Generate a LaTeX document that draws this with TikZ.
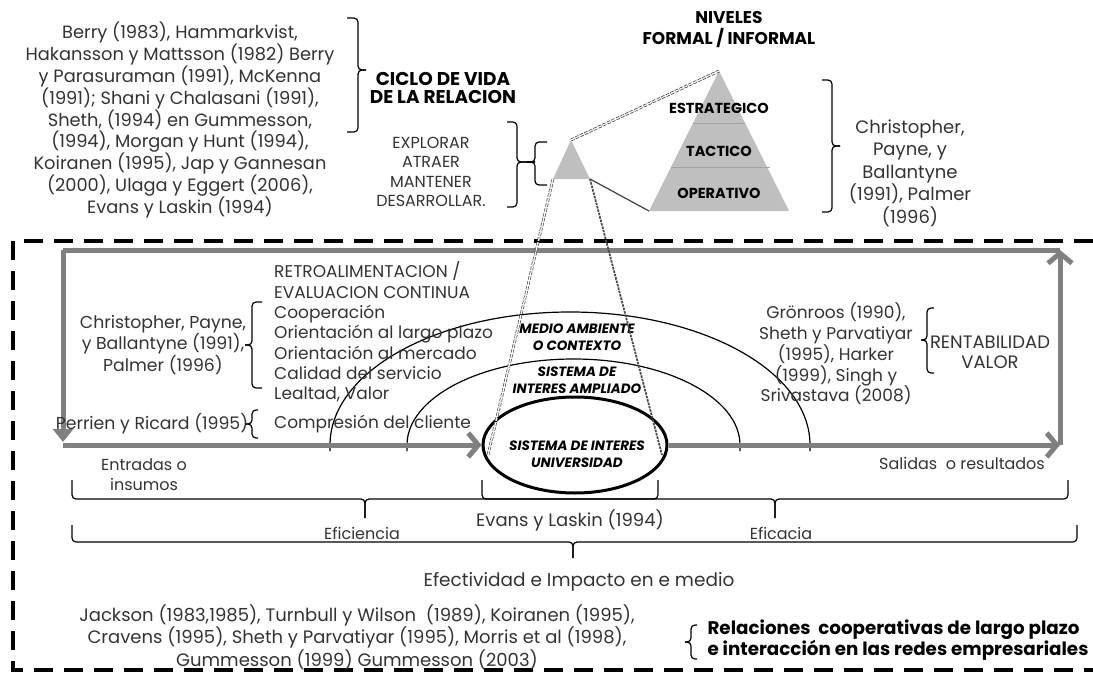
\documentclass[tikz,border=0pt]{standalone}
\usepackage{fontspec}
\setmainfont{Poppins}
\usetikzlibrary{arrows.meta,shapes.geometric}

\definecolor{ink}{HTML}{333333}
\definecolor{loopgray}{HTML}{808080}
\definecolor{pyrfill}{HTML}{BFBFBF}
\definecolor{pyrline}{HTML}{A3A3A3}

% horizontal brace opening upwards: left x, right x, end y, bar y, tip x, tip y
\newcommand\bracedown[6]{%
  \draw[bracepath] (#1,#3) -- (#1,#4) -- (#5,#4) -- (#5,#6);
  \draw[bracepath] (#2,#3) -- (#2,#4) -- (#5,#4) -- (#5,#6);}
% vertical brace: end x, bar x, tip x, top y, bottom y, tip y
\newcommand\braceside[6]{%
  \draw[bracepath] (#1,#4) -- (#2,#4) -- (#2,#6) -- (#3,#6);
  \draw[bracepath] (#1,#5) -- (#2,#5) -- (#2,#6) -- (#3,#6);}

\begin{document}
\begin{tikzpicture}[x=1pt,y=-1pt,
  every node/.style={inner sep=0pt, text=ink},
  ref/.style={font=\fontsize{17.8}{21.9}\selectfont, align=center},
  lst/.style={font=\fontsize{17}{20.3}\selectfont, align=left},
  mid/.style={font=\fontsize{16}{20}\selectfont, align=center},
  hdr/.style={font=\bfseries\fontsize{17}{21}\selectfont, align=center, text=black},
  lvl/.style={font=\bfseries\fontsize{14.5}{18}\selectfont, text=black},
  sys/.style={font=\bfseries\itshape\fontsize{13.5}{17}\selectfont, align=center, text=black},
  bracepath/.style={draw=black, line width=1.2pt, rounded corners=4pt},
  outerframe/.style={draw=black, line width=3.5pt, dash pattern=on 19pt off 11pt},
  feedback/.style={draw=loopgray, line width=5pt},
  barb/.style={-{Straight Barb[length=10pt,width=24pt]}},
  dbldash/.style={draw=black!80, line width=0.7pt, double=white, double distance=1.3pt, dash pattern=on 3.5pt off 1.5pt},
  darkdash/.style={draw=black!70, line width=1.8pt, dash pattern=on 2.5pt off 1pt},
  arcline/.style={draw=black, line width=1.2pt}]
\useasboundingbox (0,0) rectangle (1093,680);

% ---- relationship life cycle ----
\node[ref] (lifeRefs) at (180,120) {Berry (1983), Hammarkvist,\\Hakansson y Mattsson (1982) Berry\\y Parasuraman (1991), McKenna\\(1991); Shani y Chalasani (1991),\\Sheth, (1994) en Gummesson,\\(1994), Morgan y Hunt (1994),\\Koiranen (1995), Jap y Gannesan\\(2000), Ulaga y Eggert (2006),\\Evans y Laskin (1994)};
\braceside{347}{358}{366}{18}{132}{70}
\node[hdr, font=\bfseries\fontsize{18.5}{18}\selectfont] (lifeCycle) at (443,88) {CICLO DE VIDA\\DE LA RELACION};
\node[mid, font=\fontsize{16}{19.2}\selectfont] (stages) at (431,172) {EXPLORAR\\ATRAER\\MANTENER\\DESARROLLAR.};
\braceside{507}{517}{535}{122}{207}{162}
\braceside{547}{535}{527}{142}{185}{162}

% ---- pyramids ----
\coordinate (sA) at (571,140);
\coordinate (sL) at (553,179);
\coordinate (sR) at (590,179);
\coordinate (pA) at (719,71);
\coordinate (pL) at (649,211);
\coordinate (pR) at (789,211);
\fill[pyrfill] (sA) -- (sL) -- (sR) -- cycle;
\fill[pyrfill] (pA) -- (pL) -- (pR) -- cycle;
\draw[pyrline, line width=1pt] (693,123) -- (745,123);
\draw[pyrline, line width=1pt] (671,167) -- (770,167);
\node[lvl] (strat) at (719,108) {ESTRATEGICO};
\node[lvl] (tact) at (719,151) {TACTICO};
\node[lvl] (oper) at (719,193) {OPERATIVO};
\node[hdr] (levels) at (729,30) {NIVELES\\FORMAL / INFORMAL};
\braceside{822}{832}{840}{80}{212}{146}
\node[ref, font=\fontsize{18}{22.5}\selectfont] (levelRefs) at (910,173) {Christopher,\\Payne, y\\Ballantyne\\(1991), Palmer\\(1996)};

% ---- outer dashed frame ----
\draw[outerframe] (1093,241) -- (13,241) -- (13,670) -- (1093,670);

% ---- system of interest and its environment ----
\draw[arcline] (330,451) -- (330,445) arc[start angle=180, end angle=0, x radius=240pt, y radius=133pt] -- (810,451);
\draw[arcline] (407,451) -- (407,445) arc[start angle=180, end angle=0, x radius=166.5pt, y radius=86pt] -- (740,451);
\node[draw=black, line width=3pt, ellipse, minimum width=184pt, minimum height=96pt] (uni) at (575,445) {};
\node[sys] (uniText) at (577,454) {SISTEMA DE INTERES\\UNIVERSIDAD};
\node[sys] (envText) at (577,337) {MEDIO AMBIENTE\\O CONTEXTO};
\node[sys] (wideText) at (577,380) {SISTEMA DE\\INTERES AMPLIADO};

% ---- feedback loop ----
\coordinate (lpTL) at (63,250);
\coordinate (lpDown) at (63,442);
\coordinate (lpBL) at (63,445);
\coordinate (lpBR) at (1060,445);
\coordinate (lpTR) at (1060,250);
\draw[feedback] (lpTR) -- (lpTL);
\draw[feedback, -{Triangle[length=13pt,width=20pt]}] (lpTL) -- (lpDown);
\draw[feedback, barb] (lpBL) -- (uni.west);
\draw[feedback, barb] (uni.east) -- (lpBR);
\draw[feedback, barb] (lpBR) -- (lpTR);

% ---- relational attributes ----
\node[lst, anchor=west] (attrs) at (274,332) {RETROALIMENTACION /\\EVALUACION CONTINUA\\Cooperación\\Orientación al largo plazo\\Orientación al mercado\\Calidad del servicio\\Lealtad, Valor};
\node[lst, anchor=west] (understand) at (274,424) {Compresión del cliente};
\node[lst, align=center, font=\fontsize{17.3}{20}\selectfont] (attrRefs) at (163,345) {Christopher, Payne,\\y Ballantyne (1991),\\Palmer (1996)};
\braceside{262}{252}{245}{302}{388}{345}
\node[lst, font=\fontsize{17.3}{20}\selectfont] (perrien) at (152,424) {Perrien y Ricard (1995)};
\braceside{258}{252}{246}{410}{438}{424}

% ---- results ----
\node[lst, align=center, font=\fontsize{17}{20.8}\selectfont] (resRefs) at (836,354) {Grönroos (1990),\\Sheth y Parvatiyar\\(1995), Harker\\(1999), Singh y\\Srivastava (2008)};
\braceside{934}{927}{921}{308}{373}{340}
\node[lst, align=center, font=\fontsize{18}{20}\selectfont] (profit) at (990,352) {RENTABILIDAD\\VALOR};

% ---- inputs, outputs, efficiency and efficacy ----
\node[mid] (inputs) at (144,475) {Entradas o\\insumos};
\node[mid] (outputs) at (962,463) {Salidas\ \ o resultados};
\bracedown{72}{658}{480}{499}{365}{518}
\bracedown{482}{1068}{480}{499}{775}{518}
\bracedown{72}{1077}{525}{542}{573}{558}
\node[mid, font=\fontsize{18}{20}\selectfont] (evans) at (570,520) {Evans y Laskin (1994)};
\node[mid] (effic) at (362,533) {Eficiencia};
\node[mid] (effec) at (781,533) {Eficacia};
\node[mid, font=\fontsize{18.5}{20}\selectfont] (impact) at (579,582) {Efectividad e Impacto en e medio};

% ---- cooperative networks ----
\node[lst, align=center, font=\fontsize{18}{19.6}\selectfont] (netRefs) at (357,637) {Jackson (1983,1985), Turnbull y Wilson\ \ (1989), Koiranen (1995),\\Cravens (1995), Sheth y Parvatiyar (1995), Morris et al (1998),\\Gummesson (1999) Gummesson (2003)};
\braceside{697}{691}{685}{625}{659}{642}
\node[hdr, font=\bfseries\fontsize{18.3}{19.5}\selectfont, align=left] (networks) at (898,640) {Relaciones\ \ cooperativas de largo plazo\\e interacción en las redes empresariales};

% ---- projections from the small pyramid ----
\coordinate (uL) at (488,455);
\coordinate (uR) at (662,455);
\draw[dbldash] (sA) -- (pA);
\draw[black!75, line width=1.2pt] (sR) -- (pL);
\draw[dbldash, draw=black!70] (sL) -- (uL);
\draw[darkdash] (sR) -- (uR);
\end{tikzpicture}
\end{document}
